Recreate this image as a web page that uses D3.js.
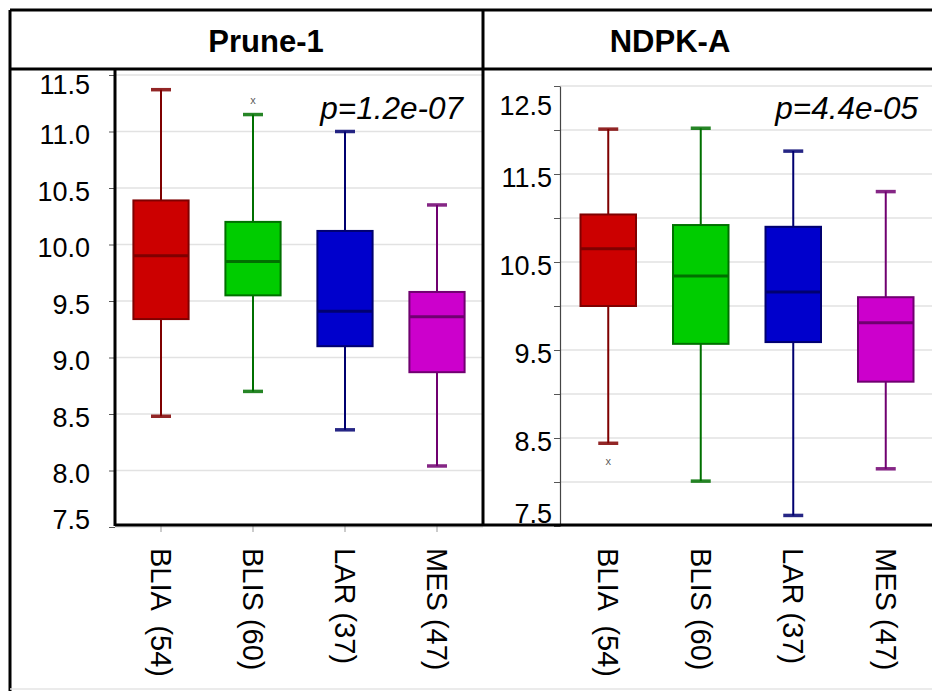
<!DOCTYPE html>
<html>
<head>
<meta charset="utf-8">
<script src="https://cdn.jsdelivr.net/npm/d3@7"></script>
<style>
  body { margin: 0; background: #fff; }
  svg { display: block; font-family: "Liberation Sans", Arial, sans-serif; }
</style>
</head>
<body>
<div class="chart"></div>
<script>
// groups and box stats
let groups = ["BLIA  (54)", "BLIS (60)", "LAR (37)", "MES (47)"]
let fills = ["#cc0000", "#00cc00", "#0000cc", "#cc00cc"]
let strokes = ["#7f0000", "#007000", "#000070", "#700070"]

let pruneLo = [8.48, 8.70, 8.36, 8.04]
let pruneQ1 = [9.34, 9.55, 9.10, 8.87]
let pruneMed = [9.90, 9.85, 9.41, 9.36]
let pruneQ3 = [10.39, 10.20, 10.12, 9.58]
let pruneHi = [11.37, 11.15, 11.00, 10.35]
let pruneOut = [[], [11.27], [], []]
let pruneTicks = [7.5, 8.0, 8.5, 9.0, 9.5, 10.0, 10.5, 11.0, 11.5]
let pruneLabels = [7.5, 8.0, 8.5, 9.0, 9.5, 10.0, 10.5, 11.0, 11.5]

let ndpkLo = [8.44, 8.01, 7.62, 8.15]
let ndpkQ1 = [10.00, 9.57, 9.59, 9.14]
let ndpkMed = [10.65, 10.34, 10.16, 9.81]
let ndpkQ3 = [11.04, 10.92, 10.90, 10.10]
let ndpkHi = [12.01, 12.02, 11.76, 11.30]
let ndpkOut = [[8.23], [], [], []]
let ndpkTicks = [7.5, 8.0, 8.5, 9.0, 9.5, 10.0, 10.5, 11.0, 11.5, 12.0, 12.5]
let ndpkLabels = [7.5, 8.5, 9.5, 10.5, 11.5, 12.5]

let width = 932, height = 691

let svg = d3.select(".chart")
  .append("svg")
  .attr("width", width)
  .attr("height", height)

let panels = [
  {
    title: "Prune-1", titleX: 266, pval: "p=1.2e-07", pX: 463,
    lo: pruneLo, q1: pruneQ1, med: pruneMed, q3: pruneQ3, hi: pruneHi, out: pruneOut,
    ticks: pruneTicks, labels: pruneLabels,
    y: d3.scaleLinear().domain([7.5, 11.5]).range([527, 75]),
    x: d3.scaleBand().domain(groups).range([115, 483]).paddingInner(0.4).paddingOuter(0.2),
    axisX: 115, labelGap: 25, clamp: [84, 519], plotRight: 483, frame: true
  },
  {
    title: "NDPK-A", titleX: 670, pval: "p=4.4e-05", pX: 918,
    lo: ndpkLo, q1: ndpkQ1, med: ndpkMed, q3: ndpkQ3, hi: ndpkHi, out: ndpkOut,
    ticks: ndpkTicks, labels: ndpkLabels,
    y: d3.scaleLinear().domain([7.5, 12.5]).range([526, 86]),
    x: d3.scaleBand().domain(groups).range([562, 932]).paddingInner(0.4).paddingOuter(0.2),
    axisX: 560, labelGap: 8, clamp: [105, 513], plotRight: 932, frame: false
  }
]

panels.forEach(p => {
  let g = svg.append("g")

  // grid lines
  g.selectAll(".grid")
    .data(p.ticks)
    .enter()
    .append("line")
    .attr("x1", p.axisX)
    .attr("x2", p.plotRight)
    .attr("y1", d => p.y(d))
    .attr("y2", d => p.y(d))
    .attr("stroke", "#e2e2e2")
    .attr("stroke-width", 1.5)

  // y axis
  let axis = g.append("g")
    .attr("transform", `translate(${p.axisX},0)`)
    .call(d3.axisLeft(p.y).tickValues(p.ticks).tickSize(6).tickSizeOuter(0)
      .tickFormat(d => p.labels.includes(d) ? d3.format(".1f")(d) : ""))
  axis.select(".domain")
    .attr("stroke", p.frame ? "none" : "#444")
    .attr("stroke-width", 1.2)
  axis.selectAll(".tick line").attr("stroke", "#555")
  axis.selectAll(".tick text")
    .attr("x", -p.labelGap)
    .attr("y", d => Math.max(p.clamp[0], Math.min(p.clamp[1], p.y(d) + 3)) - p.y(d))
    .attr("dy", "0.35em")
    .attr("fill", "#000")
    .style("font-size", "27px")
    .style("font-family", "'Liberation Sans', Arial, sans-serif")

  let idx = d3.range(groups.length)
  let cx = i => p.x(groups[i]) + p.x.bandwidth() / 2
  let bw = p.x.bandwidth()

  // whiskers
  g.selectAll(".whisk")
    .data(idx)
    .enter()
    .append("path")
    .attr("d", i => `M${cx(i)},${p.y(p.hi[i])}V${p.y(p.q3[i])}M${cx(i)},${p.y(p.q1[i])}V${p.y(p.lo[i])}`)
    .attr("stroke", i => strokes[i])
    .attr("stroke-width", 2)
    .attr("fill", "none")

  // caps
  g.selectAll(".cap")
    .data(idx.flatMap(i => [[i, p.hi[i]], [i, p.lo[i]]]))
    .enter()
    .append("line")
    .attr("x1", d => cx(d[0]) - 10)
    .attr("x2", d => cx(d[0]) + 10)
    .attr("y1", d => p.y(d[1]))
    .attr("y2", d => p.y(d[1]))
    .attr("stroke", d => strokes[d[0]])
    .attr("stroke-opacity", 0.85)
    .attr("stroke-width", 3.5)

  // boxes
  g.selectAll(".box")
    .data(idx)
    .enter()
    .append("rect")
    .attr("x", i => p.x(groups[i]))
    .attr("width", bw)
    .attr("y", i => p.y(p.q3[i]))
    .attr("height", i => p.y(p.q1[i]) - p.y(p.q3[i]))
    .attr("fill", i => fills[i])
    .attr("stroke", i => strokes[i])
    .attr("stroke-width", 2)

  // medians
  g.selectAll(".med")
    .data(idx)
    .enter()
    .append("line")
    .attr("x1", i => p.x(groups[i]))
    .attr("x2", i => p.x(groups[i]) + bw)
    .attr("y1", i => p.y(p.med[i]))
    .attr("y2", i => p.y(p.med[i]))
    .attr("stroke", i => strokes[i])
    .attr("stroke-width", 3)

  // outliers
  g.selectAll(".out")
    .data(idx.flatMap(i => p.out[i].map(v => [i, v])))
    .enter()
    .append("text")
    .attr("x", d => cx(d[0]))
    .attr("y", d => p.y(d[1]))
    .attr("dy", "0.3em")
    .attr("text-anchor", "middle")
    .attr("fill", "#555")
    .style("font-size", "10px")
    .style("font-family", "'DejaVu Sans Mono', monospace")
    .text("x")

  // group labels, rotated
  g.selectAll(".glab")
    .data(groups)
    .enter()
    .append("text")
    .attr("transform", d => `translate(${p.x(d) + bw / 2},548) rotate(90)`)
    .attr("dominant-baseline", "central")
    .attr("fill", "#000")
    .style("font-size", "29px")
    .style("white-space", "pre")
    .text(d => d)

  // p value
  g.append("text")
    .attr("x", p.pX)
    .attr("y", 119)
    .attr("text-anchor", "end")
    .attr("font-style", "italic")
    .style("font-size", "31.5px")
    .text(p.pval)

  // header title
  g.append("text")
    .attr("x", p.titleX)
    .attr("y", 52)
    .attr("text-anchor", "middle")
    .attr("font-weight", "bold")
    .style("font-size", "31px")
    .text(p.title)
})

// category ticks under the left plot
let left = panels[0]
svg.selectAll(".xtick")
  .data(groups)
  .enter()
  .append("line")
  .attr("x1", d => left.x(d) + left.x.bandwidth() / 2)
  .attr("x2", d => left.x(d) + left.x.bandwidth() / 2)
  .attr("y1", 526)
  .attr("y2", 532)
  .attr("stroke", "#999")

// table / frame lines
let frame = svg.append("g").attr("stroke", "#000").attr("stroke-width", 3)
frame.append("line").attr("x1", 10).attr("x2", width).attr("y1", 10).attr("y2", 10)
frame.append("line").attr("x1", 10).attr("x2", width).attr("y1", 69).attr("y2", 69)
frame.append("line").attr("x1", 10).attr("x2", 10).attr("y1", 10).attr("y2", height)
frame.append("line").attr("x1", 483).attr("x2", 483).attr("y1", 10).attr("y2", 526)
frame.append("line").attr("x1", 115).attr("x2", 115).attr("y1", 69).attr("y2", 526)
frame.append("line").attr("x1", 115).attr("x2", width).attr("y1", 525).attr("y2", 525)
svg.append("line")
  .attr("x1", 10).attr("x2", width).attr("y1", 689).attr("y2", 689)
  .attr("stroke", "#e4e4e4").attr("stroke-width", 1.5)
</script>
</body>
</html>
